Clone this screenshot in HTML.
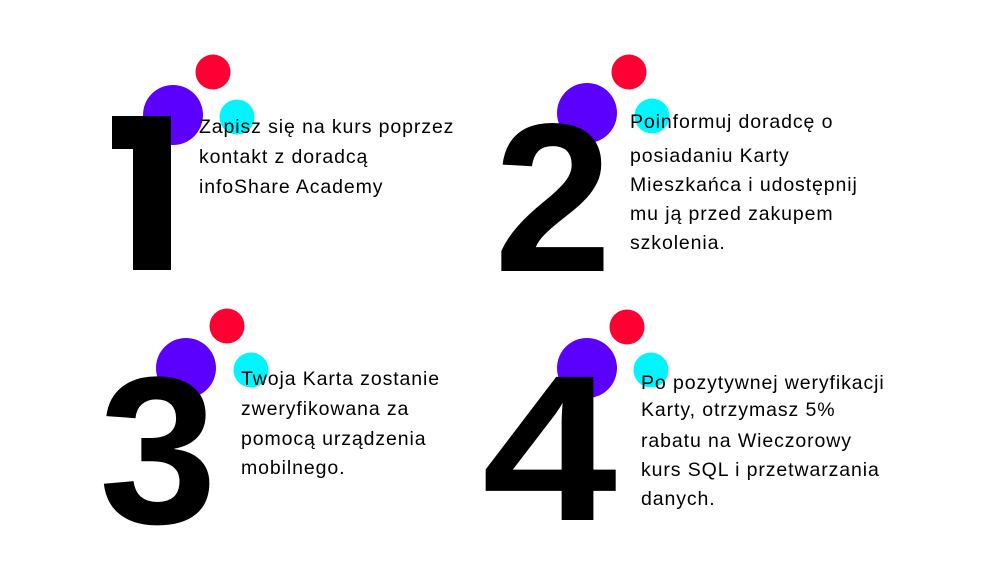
<!DOCTYPE html>
<html><head><meta charset="utf-8"><style>
body{margin:0;background:#fff}
.t{font-family:"Liberation Sans",sans-serif;font-size:19.5px;letter-spacing:0.9px;fill:#000}
</style></head><body>
<svg width="1000" height="580" xmlns="http://www.w3.org/2000/svg">
<rect width="1000" height="580" fill="#fff"/>
<g fill="#5b00ff"><circle cx="173" cy="115" r="30"/><circle cx="587" cy="113" r="30"/><circle cx="186" cy="368" r="30"/><circle cx="587" cy="368" r="30"/></g>
<g fill="#ff0033"><circle cx="213" cy="72" r="17.5"/><circle cx="629" cy="72" r="17.5"/><circle cx="227" cy="326" r="17.5"/><circle cx="627" cy="327" r="17.5"/></g>
<g fill="#00f6ff"><circle cx="237" cy="117" r="17.5"/><circle cx="652" cy="116" r="17.5"/><circle cx="251" cy="370" r="17.5"/><circle cx="651" cy="370" r="17.5"/></g>
<g font-family="Liberation Sans,sans-serif" font-weight="bold" fill="#000">
<path d="M112 116H171V270H133V149H112Z"/>
<text x="494" y="271" font-size="212" textLength="118" lengthAdjust="spacingAndGlyphs">2</text>
<text x="99" y="523" font-size="210" textLength="118" lengthAdjust="spacingAndGlyphs">3</text>
<text x="482" y="520" font-size="208" textLength="135" lengthAdjust="spacingAndGlyphs">4</text>
</g>
<g class="t">
<text x="199" y="133">Zapisz się na kurs poprzez</text>
<text x="199" y="163">kontakt z doradcą</text>
<text x="199" y="193">infoShare Academy</text>
<text x="630" y="128">Poinformuj doradcę o</text>
<text x="630" y="162">posiadaniu Karty</text>
<text x="630" y="191">Mieszkańca i udostępnij</text>
<text x="630" y="220">mu ją przed zakupem</text>
<text x="630" y="249">szkolenia.</text>
<text x="241" y="385">Twoja Karta zostanie</text>
<text x="241" y="415">zweryfikowana za</text>
<text x="241" y="445">pomocą urządzenia</text>
<text x="241" y="474">mobilnego.</text>
<text x="641" y="389">Po pozytywnej weryfikacji</text>
<text x="641" y="416">Karty, otrzymasz 5%</text>
<text x="641" y="447">rabatu na Wieczorowy</text>
<text x="641" y="476">kurs SQL i przetwarzania</text>
<text x="641" y="505">danych.</text>
</g>
</svg>
</body></html>
